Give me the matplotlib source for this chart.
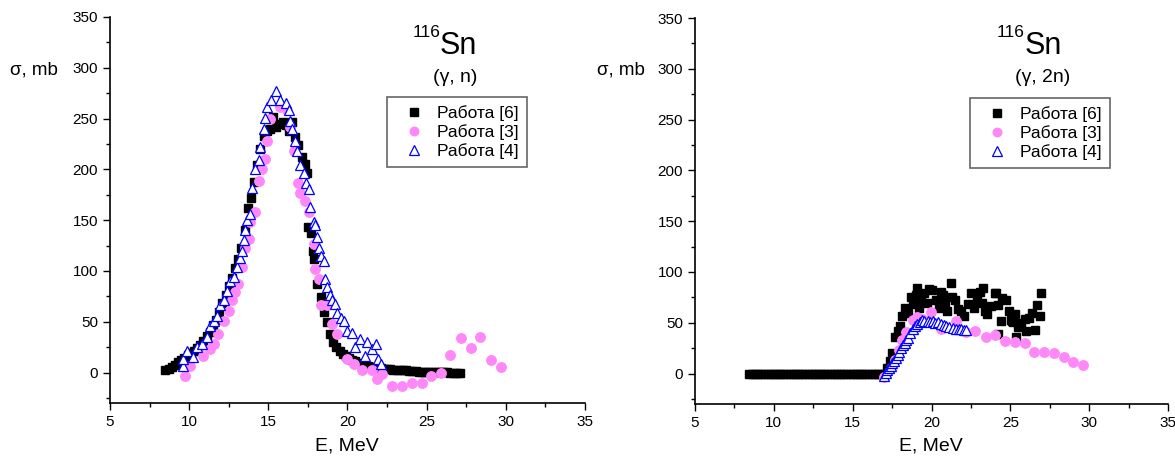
import numpy as np
import matplotlib
matplotlib.use("Agg")
import matplotlib.pyplot as plt
from matplotlib.ticker import MultipleLocator

plt.rcParams['font.family'] = ['Liberation Sans', 'DejaVu Sans']

# --- (gamma, n), left panel ---
e6_n = [8.5, 8.7, 8.9, 9.1, 9.3, 9.5, 9.7, 9.9, 10.1, 10.3, 10.5, 10.7, 10.9, 11.1,
        11.3, 11.5, 11.7, 11.9, 12.1, 12.3, 12.5, 12.7, 12.9, 13.1, 13.3, 13.5, 13.7,
        13.9, 14.1, 14.3, 14.5, 14.7, 14.9, 15.1, 15.3, 15.5, 15.7, 15.9, 16.1, 16.3,
        16.5, 16.7, 16.9, 17.1, 17.3, 17.45, 17.5, 17.7, 17.8, 17.9, 18.1, 18.3, 18.5,
        18.7, 18.9, 19.1, 19.3, 19.5, 19.7, 19.9, 20.1, 20.3, 20.5, 20.7, 20.9, 21.1,
        21.3, 21.5, 21.7, 21.9, 22.1, 22.3, 22.5, 22.7, 22.9, 23.1, 23.3, 23.5, 23.7,
        23.9, 24.1, 24.3, 24.5, 24.7, 24.9, 25.1, 25.3, 25.5, 25.7, 25.9, 26.1, 26.3,
        26.5, 26.7, 26.9, 27.1]
s6_n = [2, 3, 5, 7, 10, 12, 14, 17, 19, 21, 24, 27, 31, 36,
        40, 47, 52, 60, 68, 76, 85, 93, 103, 112, 123, 140, 162,
        172, 188, 204, 220, 233, 238, 240, 252, 242, 245, 247, 244, 238,
        247, 232, 224, 212, 205, 196, 143, 137, 120, 112, 87, 74, 60,
        50, 38, 30, 25, 21, 18, 16, 14, 12, 11, 9, 8, 7,
        6, 5.5, 5, 4.5, 4, 3.5, 3, 3, 2.5, 2.5, 2, 2, 2,
        1.5, 1.5, 1.5, 1, 1, 1, 1, 1, 0.5, 0.5, 0.5, 0.5, 0.5,
        0, 0, 0, 0]

e3_n = [9.75, 10.06, 10.9, 11.3, 11.6, 11.85, 12.17, 12.5, 12.7, 12.9, 13.1, 13.33,
        13.55, 13.76, 13.86, 14.18, 14.4, 14.6, 14.8, 14.9, 15.1, 15.75, 16.18, 16.4,
        16.6, 16.9, 17.0, 17.34, 17.55, 17.87, 17.97, 18.2, 18.3, 18.7, 19.03, 19.35,
        19.98, 20.4, 20.93, 21.56, 21.88, 22.2, 22.83, 23.46, 24.1, 24.7, 25.25, 25.9,
        26.5, 27.15, 27.8, 28.4, 29.05, 29.7]
s3_n = [-3, 6.6, 16, 23, 28, 38, 51, 61, 71, 79, 87, 104,
        123, 131, 148, 158, 189, 200, 210, 228, 250, 261, 258, 242,
        218, 187, 177, 169, 158, 127, 102, 92, 66, 66, 48, 38,
        13, 8, 2.3, 2.3, -6.6, -1.6, -13, -13, -10, -10, -3.3, 0,
        17, 33.5, 24, 35, 12, 5.6]

e4_n = [9.6, 9.64, 9.85, 10.27, 10.5, 10.8, 11.1, 11.3, 11.55, 11.75, 11.96, 12.17,
        12.4, 12.6, 12.8, 13.0, 13.2, 13.33, 13.44, 13.55, 13.65, 13.86, 13.97, 14.18,
        14.4, 14.5, 14.7, 14.8, 14.9, 15.2, 15.5, 15.75, 16.1, 16.3, 16.4, 16.5, 16.7,
        16.8, 17.0, 17.24, 17.4, 17.55, 17.66, 17.87, 17.97, 18.08, 18.18, 18.3, 18.5,
        18.6, 18.7, 18.9, 19.0, 19.2, 19.35, 19.56, 19.77, 19.98, 20.3, 20.5, 20.8,
        21.1, 21.25, 21.55, 21.8, 21.9, 22.1]
s4_n = [6.6, 13, 21, 15, 25, 28, 35, 46, 51, 56, 66, 71,
        80, 90, 94, 104, 113, 120, 130, 140, 150, 156, 182, 200,
        209, 222, 240, 251, 261, 268, 277, 268, 265, 258, 248, 240, 228,
        218, 204, 196, 187, 181, 163, 148, 145, 133, 123, 115, 110,
        92, 84, 76, 71, 67, 59, 54, 51, 41, 39, 25, 33,
        16, 30, 23, 28, 13, 8]

# --- (gamma, 2n), right panel ---
e6_2n = [8.4, 8.6, 8.8, 9.0, 9.2, 9.4, 9.6, 9.8, 10.0, 10.2, 10.4, 10.6, 10.8, 11.0,
         11.2, 11.4, 11.6, 11.8, 12.0, 12.2, 12.4, 12.6, 12.8, 13.0, 13.2, 13.4, 13.6,
         13.8, 14.0, 14.2, 14.4, 14.6, 14.8, 15.0, 15.2, 15.4, 15.6, 15.8, 16.0, 16.2,
         16.4, 16.6, 16.8, 17.0,
         17.19, 17.35, 17.5, 17.7, 17.85, 18.03, 18.14, 18.35, 18.5, 18.67, 18.8, 18.99,
         19.1, 19.2, 19.35, 19.5, 19.7, 19.85, 20.05, 20.26, 20.45, 20.6, 20.7, 20.85,
         21.0, 21.24, 21.3, 21.5, 21.7, 21.85, 22.05, 22.3, 22.5, 22.7, 22.9, 23.1,
         23.2, 23.26, 23.4, 23.55, 23.8, 24.0, 24.07, 24.2, 24.2, 24.4, 24.5, 24.7,
         24.9, 25.06, 25.1, 25.2, 25.3, 25.35, 25.5, 25.7, 25.9, 26.0, 26.2, 26.4,
         26.55, 26.66, 26.9, 26.97]
s6_2n = [0, 0, 0, 0, 0, 0, 0, 0, 0, 0, 0, 0, 0, 0,
         0, 0, 0, 0, 0, 0, 0, 0, 0, 0, 0, 0, 0,
         0, 0, 0, 0, 0, 0, 0, 0, 0, 0, 0, 0, 0,
         0, 0, 0, 0,
         5, 12, 20, 36, 42, 47, 57, 65, 60, 75, 68, 77,
         84, 65, 72, 79, 69, 83, 82, 72, 65, 80, 77, 70,
         62, 89, 75, 72, 64, 62, 57, 68, 79, 65, 72, 80,
         69, 84, 62, 59, 66, 79, 79, 67, 39, 52, 74, 72,
         62, 53, 52, 51, 59, 36, 46, 50, 54, 42, 55, 60,
         43, 67, 57, 79]

e3_2n = [17.0, 17.4, 17.7, 17.95, 18.15, 18.4, 18.8, 19.1, 19.4, 19.97, 20.6, 21.56,
         22.2, 22.77, 23.43, 24.05, 24.64, 25.27, 25.9, 26.5, 27.14, 27.76, 28.38,
         28.99, 29.6]
s3_2n = [-3, 5, 13, 23, 33, 41, 53, 56, 54, 61, 44, 52,
         41, 42, 36, 38, 32, 31, 30, 21, 21, 20, 16,
         11, 8]

e4_2n = [17.0, 17.1, 17.2, 17.3, 17.4, 17.5, 17.6, 17.75, 17.85, 17.95, 18.05, 18.2,
         18.3, 18.4, 18.5, 18.65, 18.8, 18.95, 19.1, 19.25, 19.4, 19.55, 19.75, 19.9,
         20.1, 20.25, 20.4, 20.6, 20.8, 20.95, 21.1, 21.35, 21.55, 21.75, 21.9, 22.05, 22.2]
s4_2n = [-2, 1, 3, 5, 7, 10, 12, 15, 18, 21, 25, 28,
         30, 33, 35, 40, 44, 47, 49, 51, 53, 52, 52, 51,
         52, 50, 51, 49, 48, 47, 46, 45, 44, 44, 44, 43, 43]

labels = ['Работа [6]', 'Работа [3]', 'Работа [4]']
pink = '#FF88F8'

W, H = 1175, 459
fig = plt.figure(figsize=(W / 100, H / 100), dpi=100)

panels = [
    dict(rect=[110 / W, 56 / H, 475 / W, 386 / H], data=(e6_n, s6_n, e3_n, s3_n, e4_n, s4_n),
         reac='(γ, n)', sn_x=440, sub_x=455, ylab_x=10, xlab_x=347, leg=(387, 97)),
    dict(rect=[695 / W, 55 / H, 473 / W, 386 / H], data=(e6_2n, s6_2n, e3_2n, s3_2n, e4_2n, s4_2n),
         reac='(γ, 2n)', sn_x=1025, sub_x=1043, ylab_x=597, xlab_x=931, leg=(970, 98)),
]

for p in panels:
    ax = fig.add_axes(p['rect'])
    xa, ya, xb, yb, xc, yc = p['data']
    ax.plot(xa, ya, 's', color='black', ms=6.2, mec='black', label=labels[0], zorder=2)
    ax.plot(xb, yb, 'o', color=pink, ms=6.8, mec=pink, label=labels[1], zorder=3)
    ax.plot(xc, yc, '^', mfc='white', mec='#0000FF', mew=0.9, ms=7.5, label=labels[2], zorder=4)

    ax.set_xlim(5, 35)
    ax.set_ylim(-30, 350)
    ax.xaxis.set_major_locator(MultipleLocator(5))
    ax.xaxis.set_minor_locator(MultipleLocator(2.5))
    ax.yaxis.set_major_locator(MultipleLocator(50))
    ax.yaxis.set_minor_locator(MultipleLocator(25))
    for side in ['top', 'right']:
        ax.spines[side].set_visible(False)
    for side in ['left', 'bottom']:
        ax.spines[side].set_linewidth(1.2)
    ax.tick_params(which='major', direction='out', length=5, width=1, labelsize=11)
    ax.tick_params(which='minor', direction='out', length=3, width=1)
    ax.patch.set_alpha(0)

    leg = ax.legend(loc='upper left', bbox_to_anchor=(p['leg'][0] / W, 1 - p['leg'][1] / H),
                    bbox_transform=fig.transFigure, fontsize=12.5, frameon=True, fancybox=False,
                    handlelength=2.2, handletextpad=0.25, borderpad=0.45, labelspacing=0.2,
                    borderaxespad=0, markerscale=0.9)
    leg.get_frame().set_edgecolor('#404040')
    leg.get_frame().set_linewidth(1.2)

    fig.text(p['sn_x'] / W, 1 - 54 / H, 'Sn', fontsize=22, ha='left', va='baseline')
    fig.text(p['sn_x'] / W, 1 - 37 / H, '116', fontsize=12.5, ha='right', va='baseline')
    fig.text(p['sub_x'] / W, 1 - 77 / H, p['reac'], fontsize=14, ha='center', va='center')
    fig.text(p['ylab_x'] / W, 1 - 70 / H, 'σ, mb', fontsize=13.5, ha='left', va='center')
    fig.text(p['xlab_x'] / W, 1 - 446 / H, 'E, MeV', fontsize=14, ha='center', va='center')

fig.savefig('out.png', dpi=100)
